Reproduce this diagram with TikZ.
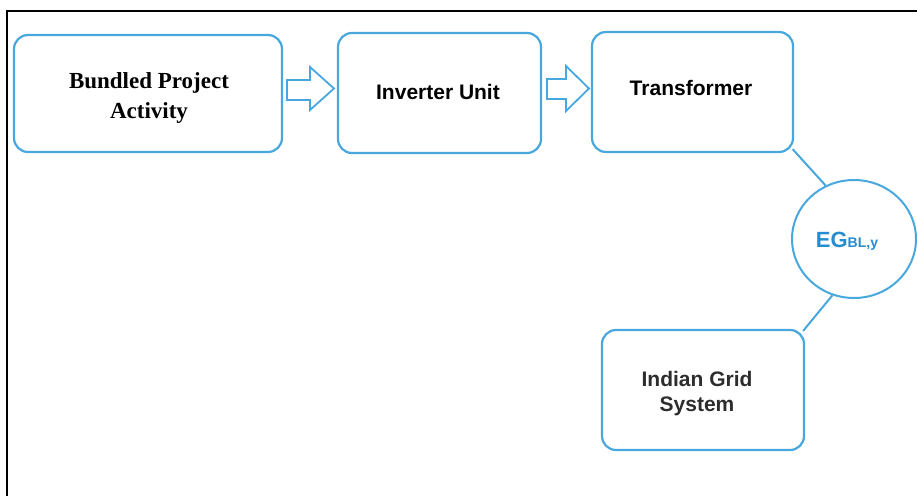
\documentclass[tikz,border=0pt]{standalone}
\usepackage{fontspec}
\setmainfont{Liberation Serif}
\setsansfont{Liberation Sans}
\usetikzlibrary{shapes.geometric}
\definecolor{boxblue}{RGB}{72,168,222}
\definecolor{egblue}{RGB}{38,140,205}
\definecolor{txtgray}{RGB}{45,45,45}
\begin{document}
\begin{tikzpicture}[x=1pt,y=-1pt,
  blockbox/.style={draw=boxblue,line width=2.2pt,rounded corners=14pt,fill=white,inner sep=0pt},
  boxtext/.style={inner sep=0pt,align=center,font=\sffamily\bfseries\fontsize{21}{25}\selectfont},
  blockarrow/.style={draw=boxblue,line width=1.8pt,fill=white,line join=miter},
  linkline/.style={draw=boxblue,line width=2pt}]
\useasboundingbox (0,0) rectangle (917,495);
\fill[white] (0,0) rectangle (917,495);
% outer frame (top and left only)
\draw[black,line width=2.4pt] (7,497) -- (7,11) -- (919,11);
% boxes
\node[blockbox,minimum width=268pt,minimum height=117pt] (b) at (148,93.5) {};
\node[blockbox,minimum width=203pt,minimum height=120pt] (i) at (439.5,93) {};
\node[blockbox,minimum width=201pt,minimum height=120pt] (t) at (692.5,92) {};
\node[blockbox,minimum width=202pt,minimum height=120pt] (g) at (703,390) {};
% texts
\node[boxtext,font=\rmfamily\bfseries\fontsize{23}{30}\selectfont] (bt) at (149,98) {Bundled Project\\Activity};
\node[boxtext] (it) at (438,92) {Inverter Unit};
\node[boxtext] (tt) at (691,88) {Transformer};
\node[boxtext,text=txtgray] (gt) at (697,394) {Indian Grid\\System};
\node[ellipse,draw=boxblue,line width=2pt,minimum width=124pt,minimum height=118pt,inner sep=0pt] (eg) at (854,239) {};
\node[inner sep=0pt,text=egblue,font=\sffamily\bfseries] (egt) at (847,241)
  {{\fontsize{22}{26}\selectfont EG}{\fontsize{14}{16}\selectfont BL,y}};
% block arrows
\draw[blockarrow] (287,80) -- (310,80) -- (310,67) -- (334,88.5) -- (310,110) -- (310,100) -- (287,100) -- cycle;
\draw[blockarrow] (547,79) -- (566,79) -- (566,66) -- (589,88.5) -- (566,111) -- (566,99) -- (547,99) -- cycle;
% links
\draw[linkline] ([xshift=-1.5pt,yshift=4pt]t.south east) -- (eg.118);
\draw[linkline] (eg.249) -- ([xshift=-2pt,yshift=-2pt]g.north east);
\end{tikzpicture}
\end{document}
